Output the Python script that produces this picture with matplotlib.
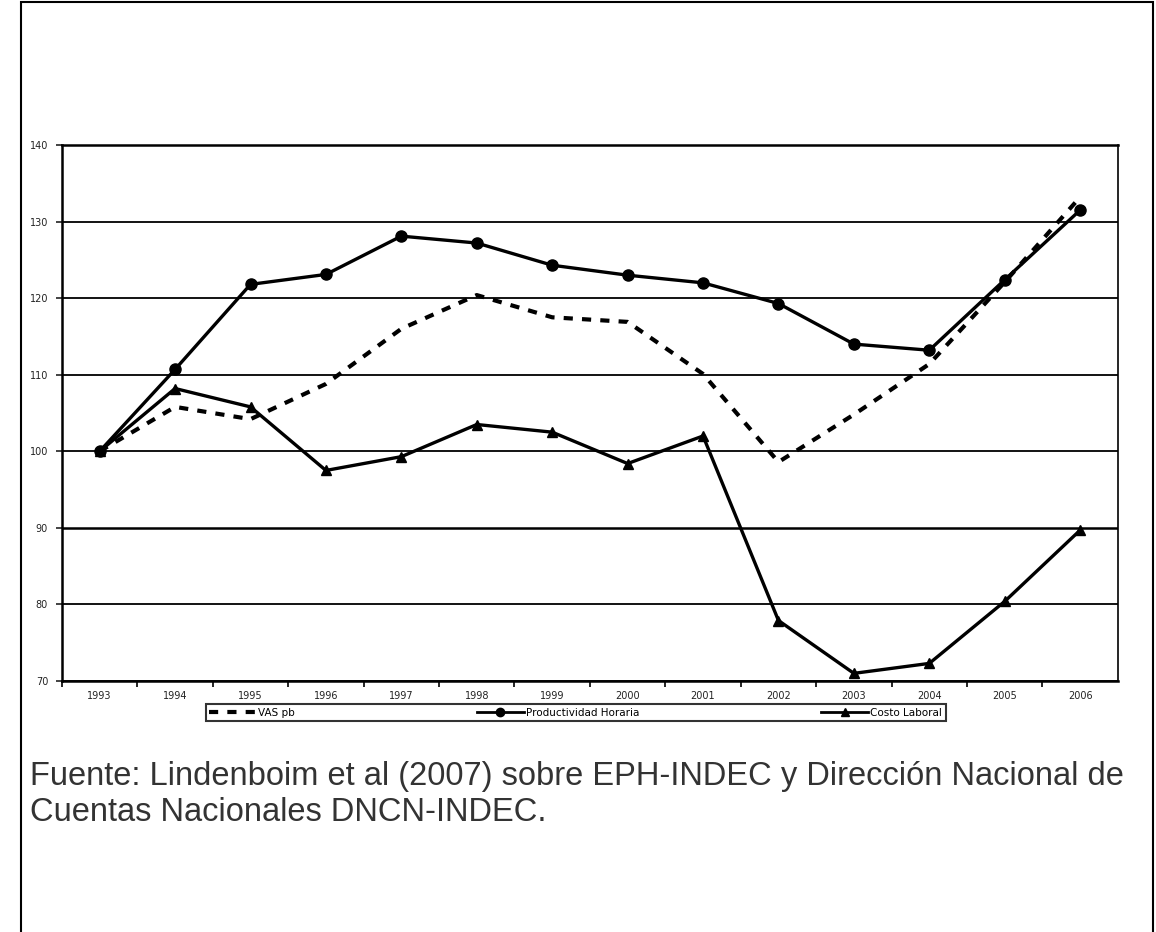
"""
plot.py
VAS pb, productividad horaria y costo laboral (1993 = 100).
"""

import matplotlib
matplotlib.use("Agg")
import matplotlib.pyplot as plt
from matplotlib.lines import Line2D
from matplotlib.patches import Rectangle

# =========================
# DATA
# =========================
years = [1993, 1994, 1995, 1996, 1997, 1998, 1999, 2000, 2001, 2002, 2003, 2004, 2005, 2006]
vas_pb = [100, 105.8, 104.2, 108.8, 116.0, 120.4, 117.5, 116.9, 110.1, 98.6, 104.8, 111.4, 122.1, 133.2]
productividad = [100, 110.7, 121.8, 123.1, 128.1, 127.2, 124.3, 123.0, 122.0, 119.3, 114.0, 113.2, 122.4, 131.5]
costo_laboral = [100, 108.2, 105.8, 97.5, 99.3, 103.5, 102.5, 98.4, 102.0, 77.9, 71.0, 72.3, 80.4, 89.7]
y_ticks = [70, 80, 90, 100, 110, 120, 130, 140]
labels = ["VAS pb", "Productividad Horaria", "Costo Laboral"]
source = ("Fuente: Lindenboim et al (2007) sobre EPH-INDEC y Dirección Nacional de\n"
          "Cuentas Nacionales DNCN-INDEC.")

DASH = (0, (2.2, 2.2))

# =========================
# FIGURE
# =========================
fig = plt.figure(figsize=(11.56, 9.32), dpi=100)
ax = fig.add_axes([0.0536, 0.2693, 0.9134, 0.5751])

# gridlines
for v in y_ticks:
    lw = 1.8 if v == 90 else 1.3
    ax.axhline(v, color="black", lw=lw, zorder=1)

ax.plot(years, vas_pb, color="black", lw=3.0, linestyle=DASH, zorder=3)
ax.plot(years, productividad, color="black", lw=2.4, marker="o", ms=8, zorder=4)
ax.plot(years, costo_laboral, color="black", lw=2.4, marker="^", ms=7, zorder=4)

ax.set_xlim(1992.5, 2006.5)
ax.set_ylim(70, 140)
ax.set_yticks(y_ticks)
ax.set_xticks(years)
ax.set_xticklabels([str(y) for y in years])
ax.set_xticks([y + 0.5 for y in years[:-1]] + [1992.5], minor=True)
ax.tick_params(axis="x", which="major", length=0, labelsize=7, pad=7, colors="#222222")
ax.tick_params(axis="x", which="minor", length=4, width=1.2, direction="out")
ax.tick_params(axis="y", length=4, width=1.2, labelsize=7, colors="#222222", pad=6)
for side in ["left", "bottom", "top", "right"]:
    ax.spines[side].set_linewidth(1.8)
ax.spines["right"].set_linestyle((0, (2, 1)))
ax.spines["right"].set_linewidth(1.2)

# legend
handles = [
    Line2D([], [], color="black", lw=3.0, linestyle=DASH),
    Line2D([], [], color="black", lw=2.0, marker="o", ms=6),
    Line2D([], [], color="black", lw=2.0, marker="^", ms=6),
]
leg = fig.legend(handles, labels, loc="lower left",
                 bbox_to_anchor=(0.178, 0.226, 0.64, 0.024), mode="expand",
                 ncol=3, fontsize=7.5, frameon=True, fancybox=False,
                 handlelength=4.5, borderpad=0.35, handletextpad=0.2,
                 borderaxespad=0)
leg.get_frame().set_edgecolor("black")
leg.get_frame().set_linewidth(1.5)

# source note
fig.text(0.026, 0.183, source, fontsize=23.5, family="Liberation Sans",
         color="#333333", va="top", ha="left", linespacing=1.2)

# outer frame
fig.add_artist(Rectangle((0.018, -0.01), 0.979, 1.008, transform=fig.transFigure,
                         fill=False, edgecolor="black", lw=1.5))

plt.savefig("out.png", dpi=100)
